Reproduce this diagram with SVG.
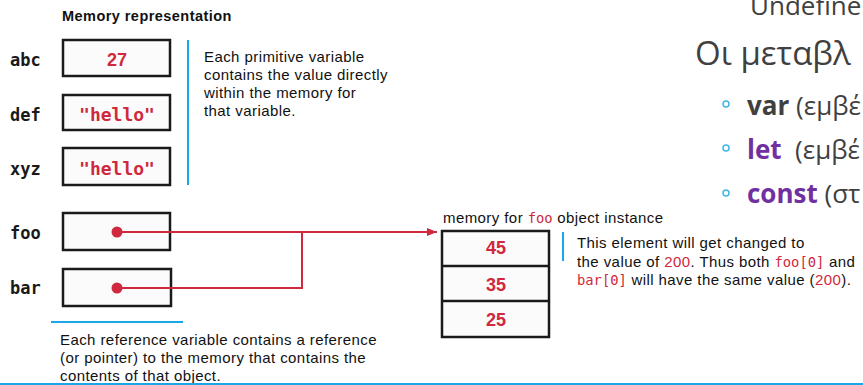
<svg xmlns="http://www.w3.org/2000/svg" width="863" height="385" viewBox="0 0 863 385">
  <style>
    .box { fill: #fbfbfb; stroke: #1a1a1a; stroke-width: 2.5; }
    .name { font-family: "DejaVu Sans Mono", "Liberation Mono", monospace; font-weight: bold; font-size: 17px; fill: #1a1a1a; }
    .num { font-family: "Liberation Sans", Arial, sans-serif; font-weight: bold; font-size: 18px; fill: #d0283c; text-anchor: middle; }
    .str { font-family: "DejaVu Sans Mono", "Liberation Mono", monospace; font-weight: bold; font-size: 18px; fill: #d0283c; text-anchor: middle; }
    .note { font-family: "Liberation Sans", Arial, sans-serif; font-size: 15px; letter-spacing: 0.42px; fill: #111; }
    .code { font-family: "DejaVu Sans Mono", "Liberation Mono", monospace; font-size: 13.8px; letter-spacing: 0; fill: #d0283c; }
    .red { fill: #d0283c; }
    .rule { stroke: #1aa7e8; stroke-width: 2; }
    .wire { stroke: #d0283c; stroke-width: 2; fill: none; }
    .slide { font-family: "Open Sans", "Noto Sans", sans-serif; fill: #404040; }
    .purple { fill: #7030a0; font-weight: bold; }
    .bullet { fill: none; stroke: #41b6e6; stroke-width: 1.5; }
  </style>
  <defs>
    <marker id="arrow" viewBox="0 0 10 10" refX="10" refY="5" markerWidth="10" markerHeight="10" markerUnits="userSpaceOnUse" orient="auto">
      <path d="M0,1 L10,5 L0,9 Z" fill="#d0283c"/>
    </marker>
  </defs>
  <rect width="863" height="385" fill="#ffffff"/>

  <!-- slide text behind the figure -->
  <g id="slide">
    <text class="slide" x="750" y="15" font-size="26">Undefine</text>
    <text class="slide" x="695" y="65" font-size="33">Οι μεταβλ</text>
    <circle class="bullet" cx="726" cy="104" r="3"/>
    <circle class="bullet" cx="726" cy="148" r="3"/>
    <circle class="bullet" cx="726" cy="193" r="3"/>
    <text class="slide" x="747" y="115" font-size="26" xml:space="preserve"><tspan font-weight="bold">var</tspan> (εμβέ</text>
    <text class="slide" x="747" y="159" font-size="26" xml:space="preserve"><tspan class="purple">let</tspan>  (εμβέ</text>
    <text class="slide" x="747" y="203" font-size="26" xml:space="preserve"><tspan class="purple">const</tspan> (στ</text>
  </g>

  <text x="62" y="21" font-family="Liberation Sans, Arial, sans-serif" font-weight="bold" font-size="14.5px" letter-spacing="0.45" fill="#111">Memory representation</text>

  <!-- primitive variables -->
  <g id="abc">
    <text class="name" x="10" y="66">abc</text>
    <rect class="box" x="63" y="40" width="107" height="36"/>
    <text class="num" x="117" y="66">27</text>
  </g>
  <g id="def">
    <text class="name" x="10" y="121">def</text>
    <rect class="box" x="63" y="95" width="107" height="35"/>
    <text class="str" x="117" y="121">"hello"</text>
  </g>
  <g id="xyz">
    <text class="name" x="10" y="175">xyz</text>
    <rect class="box" x="63" y="148" width="107" height="37"/>
    <text class="str" x="117" y="175">"hello"</text>
  </g>
  <g id="primitive-note">
    <line class="rule" x1="188" y1="40" x2="188" y2="185"/>
    <text class="note" x="204" y="62">Each primitive variable</text>
    <text class="note" x="204" y="80">contains the value directly</text>
    <text class="note" x="204" y="98">within the memory for</text>
    <text class="note" x="204" y="116">that variable.</text>
  </g>

  <!-- reference variables -->
  <g id="foo">
    <text class="name" x="10" y="239">foo</text>
    <rect class="box" x="63" y="213" width="107" height="37"/>
    <circle cx="117" cy="232" r="5.5" fill="#d0283c"/>
  </g>
  <g id="bar">
    <text class="name" x="10" y="294">bar</text>
    <rect class="box" x="63" y="269" width="108" height="37"/>
    <circle cx="117" cy="288" r="5.5" fill="#d0283c"/>
  </g>
  <g id="reference-note">
    <line class="rule" x1="51" y1="322" x2="183" y2="322"/>
    <text class="note" x="60" y="345">Each reference variable contains a reference</text>
    <text class="note" x="60" y="363">(or pointer) to the memory that contains the</text>
    <text class="note" x="60" y="381">contents of that object.</text>
  </g>

  <!-- object instance -->
  <g id="foo-instance">
    <text class="note" x="443" y="223">memory for <tspan class="code">foo</tspan> object instance</text>
    <rect class="box" x="442" y="231" width="107" height="106"/>
    <line x1="442" y1="266" x2="549" y2="266" stroke="#1a1a1a" stroke-width="2.5"/>
    <line x1="442" y1="301" x2="549" y2="301" stroke="#1a1a1a" stroke-width="2.5"/>
    <text class="num" x="496" y="254">45</text>
    <text class="num" x="496" y="291">35</text>
    <text class="num" x="496" y="326">25</text>
  </g>
  <g id="instance-note">
    <line class="rule" x1="563" y1="232" x2="563" y2="261"/>
    <text class="note" x="577" y="248">This element will get changed to</text>
    <text class="note" x="577" y="267">the value of <tspan class="red">200</tspan>. Thus both <tspan class="code">foo[0]</tspan> and</text>
    <text class="note" x="577" y="285"><tspan class="code">bar[0]</tspan> will have the same value (<tspan class="red">200</tspan>).</text>
  </g>

  <!-- connectors -->
  <g id="connectors">
    <path class="wire" d="M117,232 H437" marker-end="url(#arrow)"/>
    <path class="wire" d="M117,288 H302 V232"/>
  </g>

  <line class="rule" x1="0" y1="384" x2="863" y2="384"/>
</svg>
